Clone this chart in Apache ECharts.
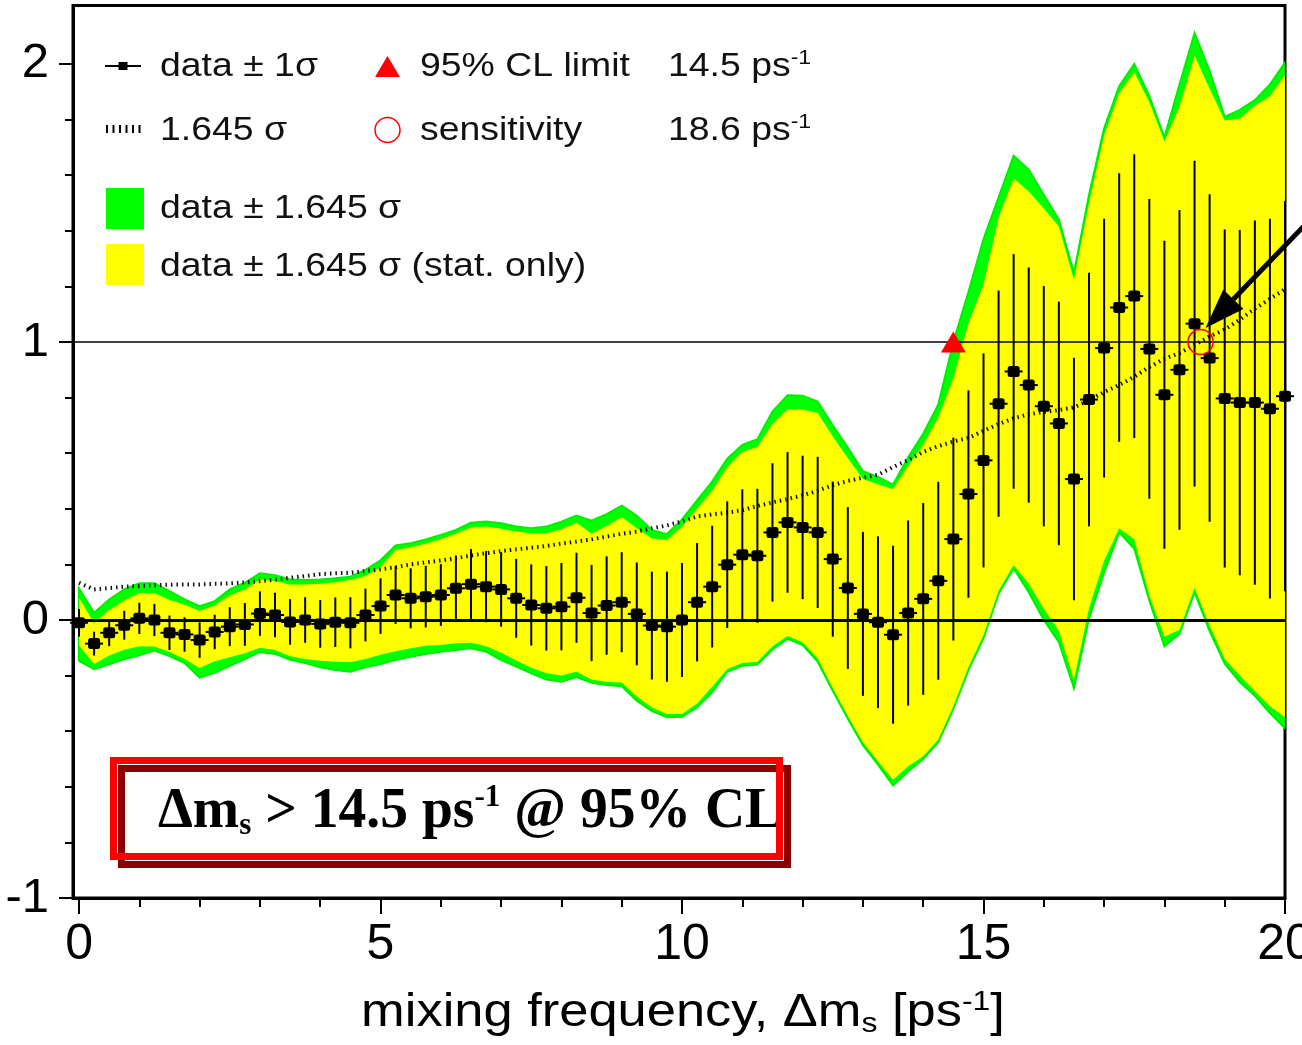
<!DOCTYPE html>
<html>
<head>
<meta charset="utf-8">
<script src="https://cdn.jsdelivr.net/npm/echarts@6/dist/echarts.min.js"></script>
<style>
  html, body { margin: 0; padding: 0; background: #fff; }
  #chart { width: 1302px; height: 1045px; }
</style>
</head>
<body>
<div id="chart"></div>
<script>
// Amplitude scan for Bs mixing: amplitude vs. mixing frequency (ps^-1)
const dms = [0,0.25,0.5,0.75,1,1.25,1.5,1.75,2,2.25,2.5,2.75,3,3.25,3.5,3.75,4,4.25,4.5,4.75,
  5,5.25,5.5,5.75,6,6.25,6.5,6.75,7,7.25,7.5,7.75,8,8.25,8.5,8.75,9,9.25,9.5,9.75,
  10,10.25,10.5,10.75,11,11.25,11.5,11.75,12,12.25,12.5,12.75,13,13.25,13.5,13.75,14,14.25,14.5,14.75,
  15,15.25,15.5,15.75,16,16.25,16.5,16.75,17,17.25,17.5,17.75,18,18.25,18.5,18.75,19,19.25,19.5,19.75,20];

// measured amplitude
const amp = [-0.01,-0.085,-0.046,-0.019,0.006,0.0,-0.046,-0.052,-0.072,-0.043,
  -0.024,-0.016,0.023,0.018,-0.007,0.0,-0.014,-0.008,-0.01,0.018,
  0.05,0.09,0.078,0.084,0.09,0.114,0.129,0.12,0.11,0.078,
  0.054,0.042,0.048,0.08,0.025,0.052,0.064,0.022,-0.02,-0.024,
  0.0,0.064,0.12,0.199,0.235,0.231,0.315,0.351,0.333,0.315,
  0.219,0.115,0.022,-0.008,-0.053,0.025,0.076,0.141,0.291,0.453,
  0.574,0.778,0.894,0.845,0.769,0.707,0.507,0.793,0.978,1.124,
  1.165,0.975,0.81,0.9,1.066,0.942,0.797,0.782,0.782,0.76,
  0.805];

// 1 sigma error bars
const errStat = [0.05,0.043,0.048,0.052,0.056,0.058,0.062,0.062,0.064,0.062,
  0.07,0.077,0.08,0.08,0.082,0.082,0.086,0.089,0.092,0.095,
  0.1,0.104,0.108,0.111,0.111,0.118,0.126,0.128,0.134,0.142,
  0.146,0.152,0.157,0.162,0.173,0.177,0.18,0.185,0.194,0.198,
  0.205,0.213,0.219,0.228,0.235,0.241,0.249,0.253,0.258,0.272,
  0.279,0.291,0.295,0.309,0.32,0.333,0.345,0.356,0.365,0.373,
  0.385,0.407,0.422,0.423,0.432,0.438,0.436,0.456,0.465,0.483,
  0.51,0.539,0.554,0.575,0.586,0.589,0.608,0.621,0.655,0.683,
  0.702];

// data +- 1.645 sigma, statistical only (band edges)
const statHi = [0.08,-0.012,0.036,0.07,0.097,0.097,0.072,0.055,0.032,0.052,
  0.088,0.11,0.146,0.14,0.128,0.128,0.13,0.136,0.144,0.158,
  0.19,0.252,0.262,0.274,0.29,0.31,0.333,0.336,0.328,0.318,
  0.312,0.312,0.326,0.35,0.31,0.338,0.37,0.33,0.293,0.288,
  0.335,0.4,0.465,0.55,0.605,0.622,0.705,0.758,0.757,0.745,
  0.66,0.582,0.507,0.488,0.47,0.555,0.63,0.728,0.87,1.067,
  1.207,1.448,1.588,1.541,1.48,1.415,1.224,1.5,1.743,1.895,
  1.97,1.862,1.721,1.846,2.03,1.911,1.797,1.804,1.85,1.884,
  1.96];
const statLo = [-0.093,-0.158,-0.128,-0.107,-0.094,-0.095,-0.115,-0.14,-0.173,-0.148,
  -0.134,-0.12,-0.1,-0.108,-0.13,-0.14,-0.147,-0.15,-0.152,-0.14,
  -0.125,-0.112,-0.102,-0.093,-0.09,-0.084,-0.082,-0.094,-0.118,-0.146,
  -0.172,-0.192,-0.2,-0.186,-0.215,-0.222,-0.225,-0.275,-0.315,-0.338,
  -0.338,-0.3,-0.24,-0.176,-0.155,-0.15,-0.094,-0.058,-0.08,-0.138,
  -0.245,-0.345,-0.44,-0.508,-0.575,-0.526,-0.49,-0.43,-0.31,-0.17,
  -0.055,0.105,0.198,0.13,0.04,-0.04,-0.215,0.043,0.213,0.33,
  0.29,0.088,-0.06,-0.035,0.115,-0.02,-0.14,-0.2,-0.255,-0.31,
  -0.35];

// data +- 1.645 sigma, stat + syst (band edges)
const totHi = [0.113,0.026,0.074,0.11,0.132,0.132,0.104,0.074,0.05,0.068,
  0.11,0.134,0.168,0.161,0.146,0.144,0.146,0.15,0.156,0.18,
  0.215,0.268,0.276,0.29,0.306,0.324,0.35,0.354,0.348,0.336,
  0.33,0.336,0.354,0.376,0.357,0.381,0.411,0.375,0.324,0.309,
  0.362,0.43,0.498,0.58,0.63,0.65,0.75,0.808,0.807,0.786,
  0.70,0.62,0.535,0.515,0.487,0.585,0.67,0.775,1.0,1.18,
  1.37,1.52,1.67,1.62,1.53,1.44,1.248,1.53,1.769,1.92,
  2.0,1.884,1.736,1.926,2.111,1.975,1.81,1.835,1.87,1.926,
  2.005];
const totLo = [-0.147,-0.177,-0.159,-0.141,-0.127,-0.11,-0.13,-0.155,-0.207,-0.19,
  -0.165,-0.141,-0.115,-0.122,-0.143,-0.155,-0.17,-0.18,-0.186,-0.17,
  -0.158,-0.144,-0.132,-0.122,-0.114,-0.108,-0.102,-0.114,-0.144,-0.168,
  -0.192,-0.214,-0.222,-0.205,-0.226,-0.234,-0.238,-0.29,-0.328,-0.35,
  -0.348,-0.315,-0.26,-0.186,-0.165,-0.16,-0.106,-0.068,-0.09,-0.15,
  -0.255,-0.355,-0.45,-0.52,-0.595,-0.545,-0.5,-0.44,-0.32,-0.18,
  -0.065,0.095,0.185,0.1,0.0,-0.08,-0.245,0.005,0.17,0.315,
  0.256,0.07,-0.095,-0.05,0.1,-0.04,-0.157,-0.223,-0.273,-0.335,
  -0.39];

// 1.645 sigma curve (sensitivity)
const sens = [0.134,0.11,0.115,0.12,0.122,0.125,0.127,0.128,0.128,0.13,
  0.132,0.135,0.14,0.145,0.152,0.158,0.165,0.168,0.17,0.176,
  0.182,0.19,0.2,0.207,0.214,0.222,0.232,0.24,0.248,0.254,
  0.26,0.266,0.275,0.282,0.29,0.3,0.31,0.318,0.33,0.34,
  0.355,0.372,0.38,0.386,0.395,0.41,0.423,0.435,0.448,0.465,
  0.485,0.5,0.512,0.522,0.55,0.575,0.605,0.625,0.642,0.655,
  0.68,0.705,0.725,0.74,0.748,0.755,0.765,0.79,0.82,0.845,
  0.875,0.91,0.94,0.96,0.99,1.02,1.045,1.08,1.12,1.155,
  1.19];

const limit95 = 14.5;      // 95% CL lower limit
const sensitivity = 18.6;  // sensitivity
const refLines = [0, 1];

const xMajorTicks = [0, 5, 10, 15, 20];
const xMinorTicks = [1,2,3,4,6,7,8,9,11,12,13,14,16,17,18,19];
const yMajorTicks = [-1, 0, 1, 2];
const yMinorTicks = [-0.8,-0.6,-0.4,-0.2,0.2,0.4,0.6,0.8,1.2,1.4,1.6,1.8];

const SANS = '"Liberation Sans", Arial, Helvetica, sans-serif';
const SERIF = '"Liberation Serif", "Times New Roman", serif';

const chart = echarts.init(document.getElementById('chart'), null, { renderer: 'canvas' });

function band(lo, hi, fill, stroke, z) {
  return {
    type: 'custom', z: z, silent: true, clip: true,
    data: [[dms[0], lo[0]]],
    renderItem: function (params, api) {
      const pts = [];
      for (let i = 0; i < dms.length; i++) pts.push(api.coord([dms[i], hi[i]]));
      for (let i = dms.length - 1; i >= 0; i--) pts.push(api.coord([dms[i], lo[i]]));
      return { type: 'polygon', shape: { points: pts },
        style: { fill: fill, stroke: stroke, lineWidth: stroke ? 2 : 0 } };
    }
  };
}

const axisCommon = { type: 'value', splitLine: { show: false } };

const option = {
  animation: false,
  backgroundColor: '#fff',
  grid: { left: 73, right: 17, top: 5.6, bottom: 147, show: true, outerBoundsMode: 'none',
    containLabel: false,
    borderColor: '#000', borderWidth: 3, backgroundColor: 'transparent' },
  xAxis: [
    Object.assign({}, axisCommon, {
      min: -0.1, max: 20, position: 'bottom',
      axisLine: { show: true, onZero: false, lineStyle: { color: '#000', width: 3 } },
      axisTick: { show: true, customValues: xMajorTicks, length: 16, lineStyle: { color: '#000', width: 2 } },
      axisLabel: { customValues: xMajorTicks, fontSize: 50, fontFamily: SANS, color: '#000', margin: 22 }
    }),
    Object.assign({}, axisCommon, {
      min: -0.1, max: 20, position: 'bottom', offset: 0,
      axisLine: { show: false, onZero: false },
      axisTick: { show: true, customValues: xMinorTicks, length: 9, lineStyle: { color: '#000', width: 2 } },
      axisLabel: { show: false }
    })
  ],
  yAxis: [
    Object.assign({}, axisCommon, {
      min: -1, max: 2.21, position: 'left',
      axisLine: { show: true, onZero: false, lineStyle: { color: '#000', width: 3 } },
      axisTick: { show: true, customValues: yMajorTicks, length: 14, lineStyle: { color: '#000', width: 2 } },
      axisLabel: { customValues: yMajorTicks, fontSize: 49, fontFamily: SANS, color: '#000', margin: 24 }
    }),
    Object.assign({}, axisCommon, {
      min: -1, max: 2.21, position: 'left', offset: 0,
      axisLine: { show: false, onZero: false },
      axisTick: { show: true, customValues: yMinorTicks, length: 8, lineStyle: { color: '#000', width: 2 } },
      axisLabel: { show: false }
    })
  ],
  series: [
    band(totLo, totHi, '#00ff00', '#00ee00', 1),
    band(statLo, statHi, '#ffff00', null, 2),
    {
      type: 'line', z: 3, data: [], silent: true,
      markLine: {
        silent: true, symbol: ['none', 'none'], label: { show: false },
        data: [
          { yAxis: refLines[0], lineStyle: { color: '#000', width: 3, type: 'solid' } },
          { yAxis: refLines[1], lineStyle: { color: '#000', width: 1.5, type: 'solid' } }
        ]
      }
    },
    {
      type: 'line', z: 4, silent: true, showSymbol: false, symbol: 'none',
      data: dms.map((x, i) => [x, sens[i]]),
      lineStyle: { color: '#111', width: 4, type: [1.5, 4] }
    },
    {
      type: 'custom', z: 5, silent: true, clip: false,
      data: dms.map((x, i) => [x, amp[i], errStat[i]]),
      renderItem: function (params, api) {
        const x = api.value(0), a = api.value(1), e = api.value(2);
        const top = api.coord([x, a + e]);
        const bot = api.coord([x, a - e]);
        const c = api.coord([x, a]);
        return {
          type: 'group',
          children: [
            { type: 'line', shape: { x1: top[0], y1: top[1], x2: bot[0], y2: bot[1] },
              style: { stroke: '#000', lineWidth: 2 } },
            { type: 'line', shape: { x1: c[0] - 9, y1: c[1], x2: c[0] + 9, y2: c[1] },
              style: { stroke: '#000', lineWidth: 2 } },
            { type: 'rect', shape: { x: c[0] - 6, y: c[1] - 5.5, width: 12, height: 11, r: 2.5 },
              style: { fill: '#000' } }
          ]
        };
      }
    },
    {
      type: 'scatter', z: 6, silent: true, symbol: 'triangle', symbolSize: [25, 21],
      data: [[limit95, 1]], itemStyle: { color: '#ff0000', opacity: 1 }
    },
    {
      type: 'scatter', z: 6, silent: true, symbol: 'circle', symbolSize: 25,
      data: [[sensitivity, 1]],
      itemStyle: { color: 'rgba(0,0,0,0)', borderColor: '#ff0000', borderWidth: 1.5, opacity: 1 }
    }
  ]
};

chart.setOption(option);

// legend, axis title, annotation box and arrow
function label(x, y, text, extra) {
  return {
    type: 'text', x: x, y: y, scaleX: 1.1, z: 20, silent: true,
    style: Object.assign({ text: text, fill: '#111', font: '34px ' + SANS, verticalAlign: 'middle', align: 'left' },
      extra || {})
  };
}

const supRich = {
  t: { fontFamily: SANS, fontSize: 34, fill: '#111', lineHeight: 38 },
  sup: { fontFamily: SANS, fontSize: 21, fill: '#111', lineHeight: 30, verticalAlign: 'top' }
};

const tip0 = chart.convertToPixel({ gridIndex: 0 }, [sensitivity, 1]);
const tip = [tip0[0] + 5, tip0[1] - 14];
const tail = [tip[0] + 108, tip[1] - 112];
const dx = tail[0] - tip[0], dy = tail[1] - tip[1];
const len = Math.sqrt(dx * dx + dy * dy);
const ux = dx / len, uy = dy / len;
const headL = 40, headW = 14;
const bx = tip[0] + ux * headL, by = tip[1] + uy * headL;

const xMid = chart.convertToPixel({ gridIndex: 0 }, [10, -1]);

const boxText = '{a|\u0394m}{s|s}{a| > 14.5 ps}{p|-1}{a| @ 95% CL}';

chart.setOption({
  graphic: [
    // row 1
    { type: 'line', z: 20, silent: true, shape: { x1: 105, y1: 66, x2: 141, y2: 66 }, style: { stroke: '#000', lineWidth: 2 } },
    { type: 'rect', z: 20, silent: true, shape: { x: 118.5, y: 62, width: 9, height: 8 }, style: { fill: '#000' } },
    label(160, 67, 'data \u00b1 1\u03c3'),
    { type: 'polygon', z: 20, silent: true, shape: { points: [[387.5, 56], [375, 77], [400, 77]] }, style: { fill: '#ff0000' } },
    label(420, 67, '95% CL limit'),
    label(668, 67, '{t|14.5 ps}{sup|-1}', { rich: supRich }),
    // row 2
    { type: 'line', z: 20, silent: true, shape: { x1: 106, y1: 129, x2: 143, y2: 129 }, style: { stroke: '#000', lineWidth: 8, lineDash: [2, 4.5] } },
    label(160, 131, '1.645 \u03c3'),
    { type: 'circle', z: 20, silent: true, shape: { cx: 387.5, cy: 130, r: 12.5 }, style: { fill: 'none', stroke: '#ff0000', lineWidth: 1.5 } },
    label(420, 131, 'sensitivity'),
    label(668, 131, '{t|18.6 ps}{sup|-1}', { rich: supRich }),
    // rows 3-4
    { type: 'rect', z: 20, silent: true, shape: { x: 106, y: 188, width: 38, height: 41 }, style: { fill: '#00ff00' } },
    label(160, 209, 'data \u00b1 1.645 \u03c3'),
    { type: 'rect', z: 20, silent: true, shape: { x: 106, y: 244, width: 38, height: 41 }, style: { fill: '#ffff00' } },
    label(160, 267, 'data \u00b1 1.645 \u03c3 (stat. only)'),

    // x axis title
    { type: 'text', z: 20, silent: true, x: xMid[0] + 1, y: 1013, scaleX: 1.14,
      style: {
        text: '{t|mixing frequency, \u0394m}{sub|s}{t| [ps}{sup|-1}{t|]}',
        fill: '#000', align: 'center', verticalAlign: 'middle', font: '46px ' + SANS,
        rich: {
          t: { fontFamily: SANS, fontSize: 46, fill: '#000', lineHeight: 50 },
          sub: { fontFamily: SANS, fontSize: 28, fill: '#000', lineHeight: 20, verticalAlign: 'bottom' },
          sup: { fontFamily: SANS, fontSize: 28, fill: '#000', lineHeight: 34, verticalAlign: 'top' }
        }
      }
    },

    // result box
    { type: 'rect', z: 20, silent: true, shape: { x: 114, y: 761, width: 666, height: 96 }, style: { fill: '#fff' } },
    { type: 'text', z: 21, silent: true, x: 158, y: 812, scaleX: 0.975,
      style: {
        text: boxText, fill: '#000', verticalAlign: 'middle', align: 'left',
        font: 'bold 57px ' + SERIF,
        rich: {
          a: { fontFamily: SERIF, fontWeight: 'bold', fontSize: 57, fill: '#000', lineHeight: 60 },
          s: { fontFamily: SERIF, fontWeight: 'bold', fontSize: 32, fill: '#000', lineHeight: 24, verticalAlign: 'bottom' },
          p: { fontFamily: SERIF, fontWeight: 'bold', fontSize: 32, fill: '#000', lineHeight: 38, verticalAlign: 'top' }
        }
      }
    },
    { type: 'rect', z: 22, silent: true, shape: { x: 121.5, y: 768.5, width: 666, height: 96 }, style: { fill: 'none', stroke: '#8b0000', lineWidth: 7 } },
    { type: 'rect', z: 23, silent: true, shape: { x: 113.5, y: 760.5, width: 666, height: 96 }, style: { fill: 'none', stroke: '#ff0000', lineWidth: 7 } },

    // arrow to the sensitivity point
    { type: 'line', z: 24, silent: true, shape: { x1: tail[0], y1: tail[1], x2: bx, y2: by }, style: { stroke: '#000', lineWidth: 5 } },
    { type: 'polygon', z: 24, silent: true,
      shape: { points: [[tip[0], tip[1]], [bx - uy * headW, by + ux * headW], [bx + uy * headW, by - ux * headW]] },
      style: { fill: '#000' } }
  ]
});
</script>
</body>
</html>
